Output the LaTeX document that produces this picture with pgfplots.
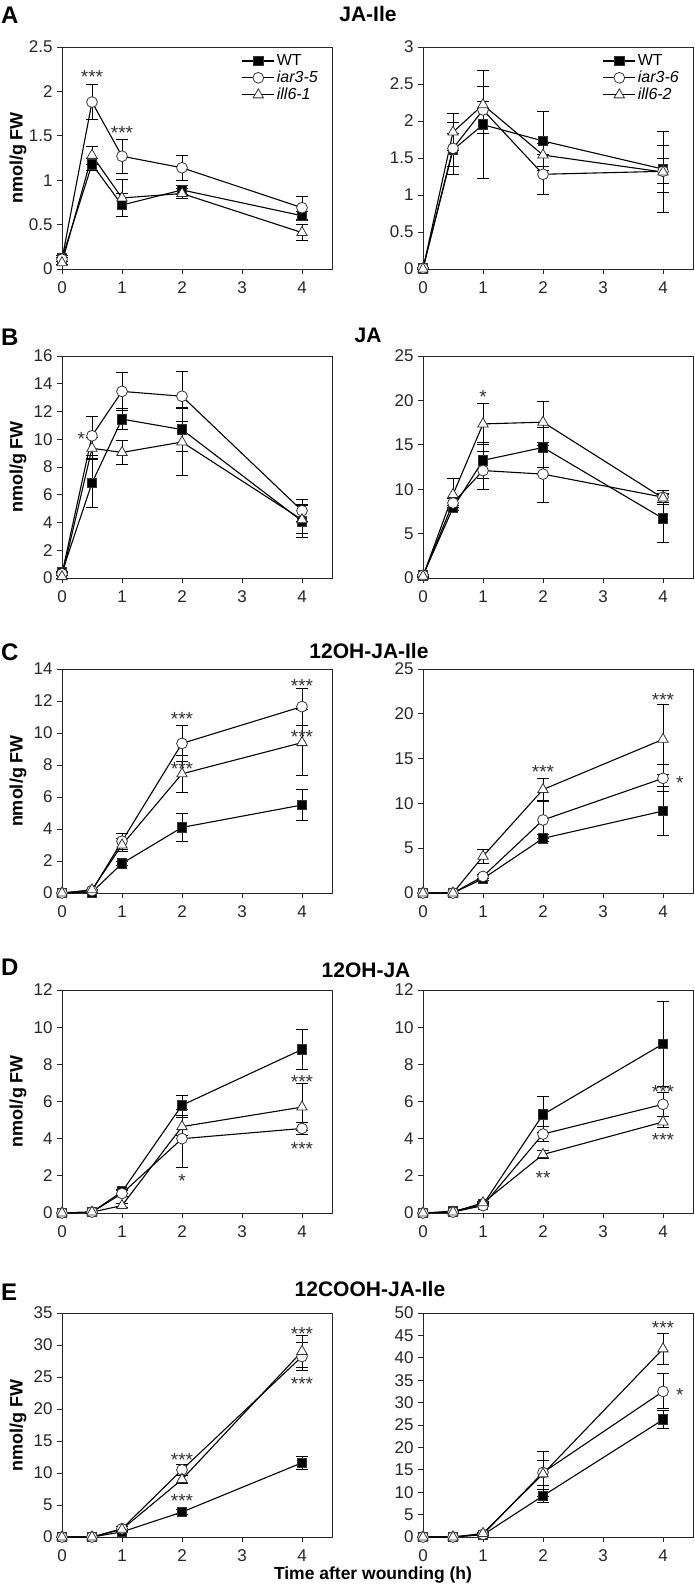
\documentclass[border=0pt]{standalone}
\usepackage{fontspec}
\setmainfont{Liberation Sans}
\usepackage{pgfplots}
\pgfplotsset{compat=1.18}
\pgfplotsset{
  myaxis/.style={
    scale only axis, width=270pt, height=222pt, anchor=north west,
    xmin=0, xmax=4.5, xtick={0,1,2,3,4}, ymin=0,
    tick align=outside, tick pos=left, major tick length=5pt,
    axis line style={line width=0.9pt, black!85},
    every tick/.style={line width=0.9pt, black!85},
    ticklabel style={font=\fontsize{17}{17}\selectfont, text=black!85},
    /pgf/number format/assume math mode=true,
    xticklabel style={yshift=-4pt},
    yticklabel style={xshift=-1pt},
    clip=false,
    legend style={draw=none, fill=none, at={(0.665,0.975)}, anchor=north west,
      font=\fontsize{16}{16}\selectfont, row sep=0pt, inner sep=0pt,
      cells={anchor=west}},
    legend image code/.code={
      \draw[##1] (0pt,0pt) -- (32pt,0pt);
      \draw[##1, mark repeat=2, mark phase=2] plot coordinates {(0pt,0pt) (16pt,0pt) (32pt,0pt)};
    },
  },
  errs/.style={error bars/.cd, y dir=both, y explicit,
    error bar style={line width=0.9pt, black},
    error mark options={rotate=90, mark size=6pt, line width=0.9pt, black}},
  wt/.style={black, line width=1.1pt, mark=square*, mark size=4.8pt,
    mark options={solid, fill=black, draw=black!80, line width=0.8pt}, errs},
  iar/.style={black, line width=1.1pt, mark=*, mark size=5.4pt,
    mark options={solid, fill=white, draw=black!80, line width=0.8pt}, errs},
  ill/.style={black, line width=1.1pt, mark=triangle*, mark size=6pt,
    mark options={solid, fill=white, draw=black!80, line width=0.8pt}, errs},
}
\newcommand{\st}[3]{\node[font=\fontsize{19}{19}\selectfont, text=black!80, anchor=center, inner sep=1pt, yshift=-4pt] at (axis cs:#1,#2) {#3};}
\begin{document}
\begin{tikzpicture}[x=1pt,y=1pt]
\path[use as bounding box] (0,0) rectangle (694,-1595);

% ---------- titles and letters ----------
\begin{scope}[font=\bfseries\fontsize{21}{21}\selectfont]
\node[anchor=base, inner sep=0pt] at (368,-22) {JA-Ile};
\node[anchor=base, inner sep=0pt] at (368,-342) {JA};
\node[anchor=base, inner sep=0pt] at (369,-658) {12OH-JA-Ile};
\node[anchor=base, inner sep=0pt] at (366,-977) {12OH-JA};
\node[anchor=base, inner sep=0pt] at (370,-1296) {12COOH-JA-Ile};
\end{scope}
\begin{scope}[font=\bfseries\fontsize{24}{24}\selectfont]
\node[anchor=base west, inner sep=0pt] at (1,-24) {A};
\node[anchor=base west, inner sep=0pt] at (1,-345) {B};
\node[anchor=base west, inner sep=0pt] at (1,-660) {C};
\node[anchor=base west, inner sep=0pt] at (1,-975) {D};
\node[anchor=base west, inner sep=0pt] at (1,-1300) {E};
\end{scope}
\begin{scope}[font=\bfseries\fontsize{18}{18}\selectfont]
\node[rotate=90] at (18,-158) {nmol/g FW};
\node[rotate=90] at (18,-467) {nmol/g FW};
\node[rotate=90] at (18,-781) {nmol/g FW};
\node[rotate=90] at (18,-1101) {nmol/g FW};
\node[rotate=90] at (18,-1425) {nmol/g FW};
\end{scope}
\node[font=\bfseries\fontsize{17.5}{17.5}\selectfont, anchor=base] at (373,-1579) {Time after wounding (h)};

% ================= A left =================
\begin{axis}[myaxis, at={(62pt,-47pt)}, ymax=2.5, ytick={0,0.5,1,1.5,2,2.5}]
\addplot+[wt] coordinates {(0,0.12)+-(0,0.03) (0.5,1.18)+-(0,0.07) (1,0.72)+-(0,0.13) (2,0.89)+-(0,0.05) (4,0.60)+-(0,0.05)};
\addlegendentry{WT}
\addplot+[iar] coordinates {(0,0.11)+-(0,0.02) (0.5,1.88)+-(0,0.2) (1,1.27)+-(0,0.19) (2,1.14)+-(0,0.14) (4,0.69)+-(0,0.13)};
\addlegendentry{\itshape iar3-5}
\addplot+[ill] coordinates {(0,0.07)+-(0,0.02) (0.5,1.28)+-(0,0.1) (1,0.80)+-(0,0.21) (2,0.85)+-(0,0.06) (4,0.41)+-(0,0.09)};
\addlegendentry{\itshape ill6-1}
\st{0.5}{2.21}{***}
\st{1}{1.58}{***}
\end{axis}

% ================= A right =================
\begin{axis}[myaxis, at={(423pt,-47pt)}, ymax=3, ytick={0,0.5,1,1.5,2,2.5,3}]
\addplot+[wt] coordinates {(0,0.01)+-(0,0.01) (0.5,1.61)+-(0,0.22) (1,1.95)+-(0,0.73) (2,1.73)+-(0,0.4) (4,1.35)+-(0,0.32)};
\addlegendentry{WT}
\addplot+[iar] coordinates {(0,0.01)+-(0,0.01) (0.5,1.63)+-(0,0.35) (1,2.15)+-(0,0.32) (2,1.28)+-(0,0.27) (4,1.32)+-(0,0.17)};
\addlegendentry{\itshape iar3-6}
\addplot+[ill] coordinates {(0,0.0)+-(0,0.01) (0.5,1.85)+-(0,0.25) (1,2.22)+-(0,0.05) (2,1.54)+-(0,0.15) (4,1.31)+-(0,0.55)};
\addlegendentry{\itshape ill6-2}
\end{axis}

% ================= B left =================
\begin{axis}[myaxis, at={(62pt,-356pt)}, ymax=16, ytick={0,2,...,16}]
\addplot+[wt] coordinates {(0,0.4)+-(0,0.1) (0.5,6.85)+-(0,1.75) (1,11.45)+-(0,0.75) (2,10.7)+-(0,1.6) (4,4.1)+-(0,1.2)};
\addplot+[iar] coordinates {(0,0.3)+-(0,0.1) (0.5,10.25)+-(0,1.4) (1,13.45)+-(0,1.35) (2,13.1)+-(0,1.8) (4,4.85)+-(0,0.8)};
\addplot+[ill] coordinates {(0,0.1)+-(0,0.1) (0.5,9.35)+-(0,0.8) (1,9.05)+-(0,0.85) (2,9.8)+-(0,2.4) (4,4.2)+-(0,1.0)};
\st{0.32}{10.3}{*}
\end{axis}

% ================= B right =================
\begin{axis}[myaxis, at={(423pt,-356pt)}, ymax=25, ytick={0,5,...,25}]
\addplot+[wt] coordinates {(0,0.3)+-(0,0.1) (0.5,7.9)+-(0,0.3) (1,13.25)+-(0,2.0) (2,14.7)+-(0,2.2) (4,6.7)+-(0,2.7)};
\addplot+[iar] coordinates {(0,0.3)+-(0,0.1) (0.5,8.45)+-(0,0.5) (1,12.1)+-(0,2.1) (2,11.7)+-(0,3.2) (4,9.1)+-(0,0.8)};
\addplot+[ill] coordinates {(0,0.2)+-(0,0.1) (0.5,9.4)+-(0,1.8) (1,17.35)+-(0,2.3) (2,17.55)+-(0,2.3) (4,9.0)+-(0,0.5)};
\st{1}{20.8}{*}
\end{axis}

% ================= C left =================
\begin{axis}[myaxis, at={(62pt,-669pt)}, height=224pt, ymax=14, ytick={0,2,...,14}]
\addplot+[wt] coordinates {(0,0)+-(0,0) (0.5,0.05)+-(0,0) (1,1.85)+-(0,0.1) (2,4.1)+-(0,0.85) (4,5.5)+-(0,0.95)};
\addplot+[iar] coordinates {(0,0)+-(0,0) (0.5,0.15)+-(0,0) (1,3.24)+-(0,0.5) (2,9.35)+-(0,1.15) (4,11.65)+-(0,1.15)};
\addplot+[ill] coordinates {(0,0)+-(0,0) (0.5,0.2)+-(0,0) (1,3.0)+-(0,0.4) (2,7.45)+-(0,1.15) (4,9.4)+-(0,2.05)};
\st{2}{11.1}{***}
\st{2}{8.0}{***}
\st{4}{13.2}{***}
\st{4}{10.0}{***}
\end{axis}

% ================= C right =================
\begin{axis}[myaxis, at={(423pt,-669pt)}, height=224pt, ymax=25, ytick={0,5,...,25}]
\addplot+[wt] coordinates {(0,0)+-(0,0) (0.5,0)+-(0,0) (1,1.6)+-(0,0.2) (2,6.1)+-(0,0.4) (4,9.15)+-(0,2.7)};
\addplot+[iar] coordinates {(0,0)+-(0,0) (0.5,0)+-(0,0) (1,1.85)+-(0,0.2) (2,8.15)+-(0,2.1) (4,12.8)+-(0,1.5)};
\addplot+[ill] coordinates {(0,0)+-(0,0) (0.5,0)+-(0,0) (1,4.1)+-(0,0.75) (2,11.55)+-(0,1.25) (4,17.15)+-(0,3.9)};
\st{2}{14.0}{***}
\st{4}{22.0}{***}
\st{4.28}{12.7}{*}
\end{axis}

% ================= D left =================
\begin{axis}[myaxis, at={(62pt,-990pt)}, height=223pt, ymax=12, ytick={0,2,...,12}]
\addplot+[wt] coordinates {(0,0)+-(0,0) (0.5,0.05)+-(0,0) (1,1.15)+-(0,0.1) (2,5.8)+-(0,0.55) (4,8.8)+-(0,1.1)};
\addplot+[iar] coordinates {(0,0)+-(0,0) (0.5,0.05)+-(0,0) (1,1.05)+-(0,0.15) (2,4.0)+-(0,1.55) (4,4.55)+-(0,0.3)};
\addplot+[ill] coordinates {(0,0)+-(0,0) (0.5,0.05)+-(0,0) (1,0.4)+-(0,0.1) (2,4.65)+-(0,0.5) (4,5.7)+-(0,1.25)};
\st{2}{1.95}{*}
\st{4}{7.25}{***}
\st{4}{3.65}{***}
\end{axis}

% ================= D right =================
\begin{axis}[myaxis, at={(423pt,-990pt)}, height=223pt, ymax=12, ytick={0,2,...,12}]
\addplot+[wt] coordinates {(0,0)+-(0,0) (0.5,0.1)+-(0,0) (1,0.45)+-(0,0.1) (2,5.3)+-(0,0.95) (4,9.1)+-(0,2.3)};
\addplot+[iar] coordinates {(0,0)+-(0,0) (0.5,0.05)+-(0,0) (1,0.4)+-(0,0.05) (2,4.25)+-(0,0.4) (4,5.85)+-(0,0.65)};
\addplot+[ill] coordinates {(0,0)+-(0,0) (0.5,0.05)+-(0,0) (1,0.55)+-(0,0.05) (2,3.15)+-(0,0.2) (4,4.9)+-(0,0.3)};
\st{2}{2.1}{**}
\st{4}{6.75}{***}
\st{4}{4.15}{***}
\end{axis}

% ================= E left =================
\begin{axis}[myaxis, at={(62pt,-1313pt)}, height=224pt, ymax=35, ytick={0,5,...,35}]
\addplot+[wt] coordinates {(0,0)+-(0,0) (0.5,0)+-(0,0) (1,0.8)+-(0,0.1) (2,3.9)+-(0,0.4) (4,11.6)+-(0,1.0)};
\addplot+[iar] coordinates {(0,0)+-(0,0) (0.5,0)+-(0,0) (1,1.3)+-(0,0.3) (2,10.5)+-(0,0.9) (4,28.2)+-(0,2.2)};
\addplot+[ill] coordinates {(0,0)+-(0,0) (0.5,0)+-(0,0) (1,1.2)+-(0,0.2) (2,9.0)+-(0,0.6) (4,29.0)+-(0,2.5)};
\st{2}{12.7}{***}
\st{2}{6.3}{***}
\st{4}{32.3}{***}
\st{4}{24.5}{***}
\end{axis}

% ================= E right =================
\begin{axis}[myaxis, at={(423pt,-1313pt)}, height=224pt, ymax=50, ytick={0,5,...,50}]
\addplot+[wt] coordinates {(0,0)+-(0,0) (0.5,0)+-(0,0) (1,0.5)+-(0,0.1) (2,9.2)+-(0,1.5) (4,26.2)+-(0,2.0)};
\addplot+[iar] coordinates {(0,0)+-(0,0) (0.5,0)+-(0,0) (1,0.6)+-(0,0.2) (2,14.4)+-(0,2.8) (4,32.5)+-(0,3.9)};
\addplot+[ill] coordinates {(0,0)+-(0,0) (0.5,0)+-(0,0) (1,0.8)+-(0,0.2) (2,14.1)+-(0,5.0) (4,42.0)+-(0,3.5)};
\st{4}{47.6}{***}
\st{4.28}{32.5}{*}
\end{axis}
\end{tikzpicture}
\end{document}
